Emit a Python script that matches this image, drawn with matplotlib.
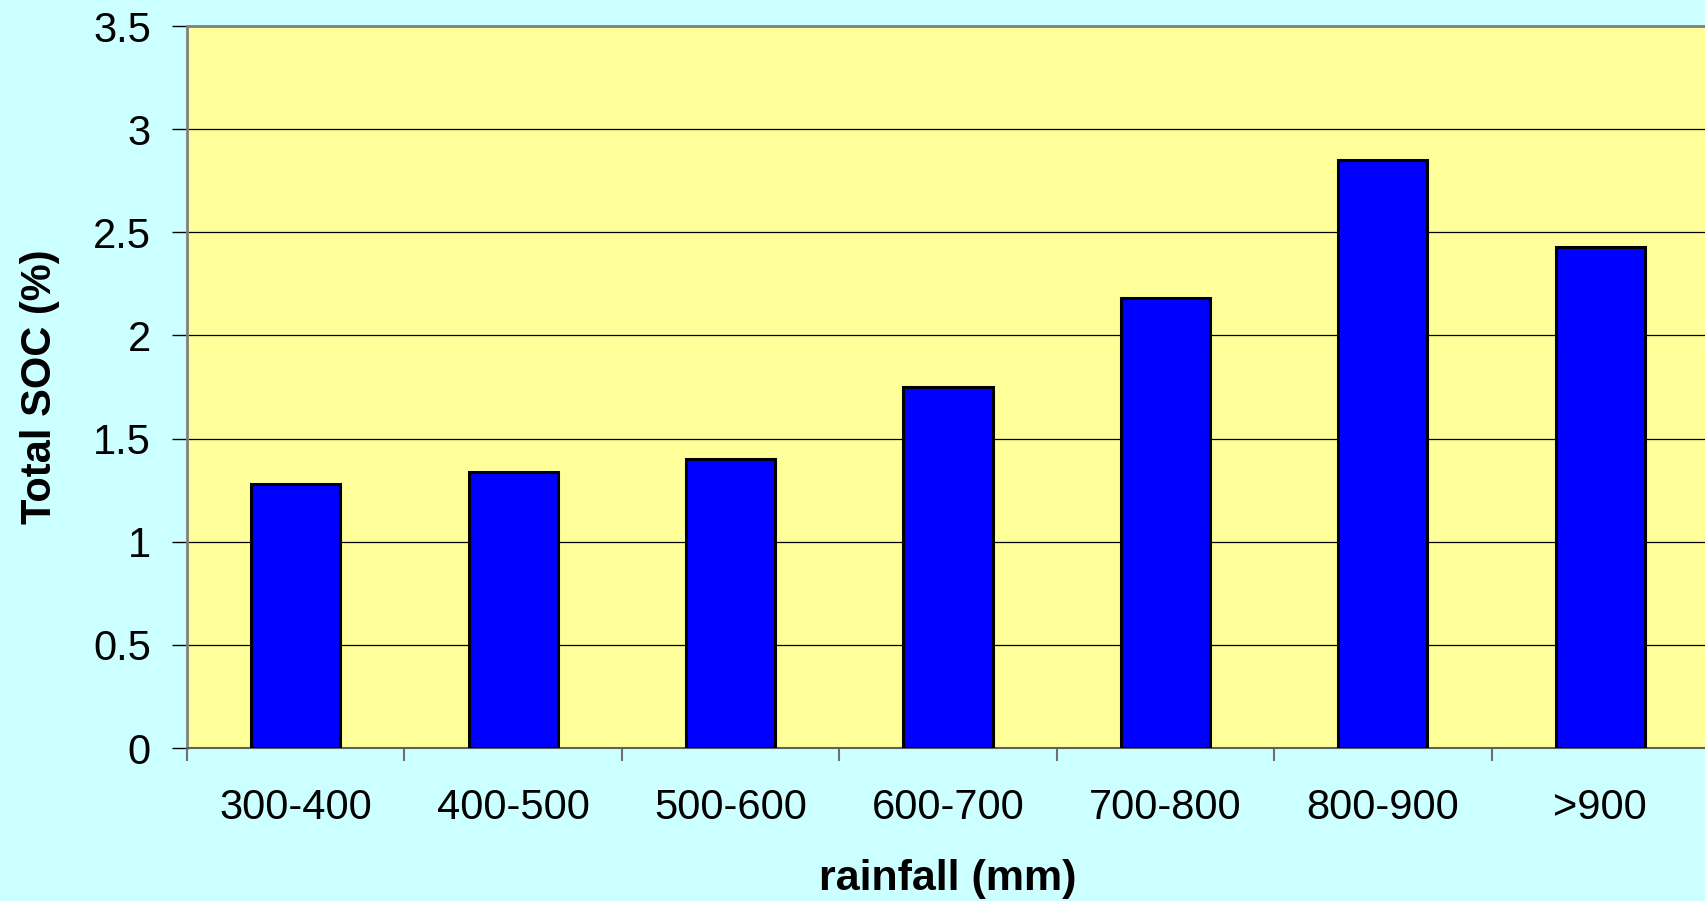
import matplotlib
matplotlib.use("Agg")
import matplotlib.pyplot as plt
import numpy as np

rainfall = ["300-400", "400-500", "500-600", "600-700", "700-800", "800-900", ">900"]
soc = [1.28, 1.34, 1.40, 1.75, 2.18, 2.85, 2.43]
yticks = [0, 0.5, 1, 1.5, 2, 2.5, 3, 3.5]
ytick_labels = ["0", "0.5", "1", "1.5", "2", "2.5", "3", "3.5"]

plt.rcParams["font.family"] = ["Liberation Sans", "DejaVu Sans"]

fig = plt.figure(figsize=(17.06, 9.01), dpi=100, facecolor="#CCFFFF")
ax = fig.add_axes([187 / 1706, 153 / 901, 1522 / 1706, 722 / 901])
ax.set_facecolor("#FFFF99")

x = np.arange(len(rainfall))
ax.bar(x, soc, width=0.41, color="#0000FF", edgecolor="black", linewidth=2.2, zorder=3)

ax.set_xlim(-0.5, len(rainfall) - 0.5)
ax.set_ylim(0, 3.5)

# gridlines
ax.set_yticks(yticks)
ax.set_yticklabels(ytick_labels)
ax.yaxis.grid(True, color="black", linewidth=0.9, zorder=1)
ax.set_axisbelow(True)

# category labels at the centres, tick marks between categories
ax.set_xticks(x)
ax.set_xticklabels(rainfall)
ax.set_xticks(np.arange(len(rainfall)) - 0.5, minor=True)
ax.tick_params(axis="x", which="major", length=0, pad=29, labelsize=30)
ax.tick_params(axis="x", which="minor", length=9, width=1.5, color="#707070", direction="out")
ax.tick_params(axis="y", length=11, width=1.0, color="black", direction="out", pad=15, labelsize=30)

for side in ["left", "top"]:
    ax.spines[side].set_color("#808080")
    ax.spines[side].set_linewidth(2)
ax.spines["bottom"].set_color("#606060")
ax.spines["bottom"].set_linewidth(1.5)
ax.spines["right"].set_visible(False)

ax.set_xlabel("rainfall (mm)", fontsize=31, fontweight="bold", labelpad=22)
ax.set_ylabel("Total SOC (%)", fontsize=30, fontweight="bold", labelpad=24)

fig.savefig("out.png", dpi=100, facecolor=fig.get_facecolor())
